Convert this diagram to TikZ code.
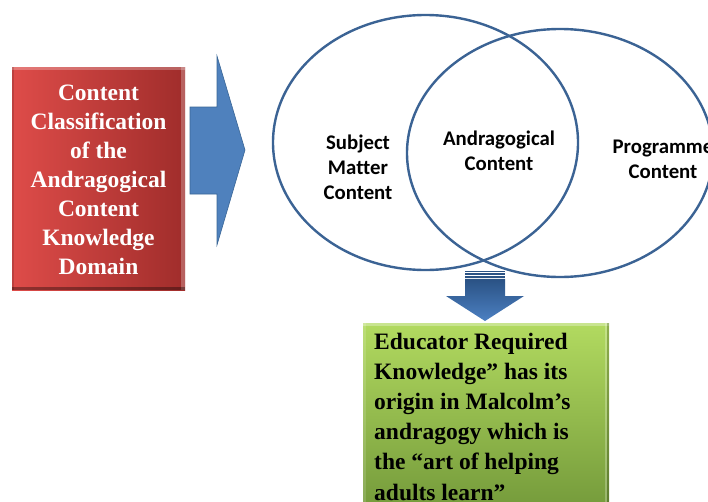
\documentclass[tikz,border=0pt]{standalone}
\usepackage{fontspec}
\setmainfont{Liberation Serif}
\newfontfamily\calib[Ligatures=NoCommon]{Carlito}
\usetikzlibrary{shapes.geometric}

\definecolor{ringblue}{HTML}{3B6394}
\definecolor{arrowblue}{HTML}{4F81BD}
\definecolor{arrowedge}{HTML}{3A6696}
\definecolor{redlight}{HTML}{DE4C49}
\definecolor{reddark}{HTML}{A02D2B}
\definecolor{greenlight}{HTML}{B2DA60}
\definecolor{greendark}{HTML}{73993A}
\definecolor{downtop}{HTML}{2A5284}
\definecolor{downbot}{HTML}{4C80C2}

\tikzset{
  ring/.style={ellipse, draw=ringblue, line width=2.4pt, inner sep=0pt},
  venntext/.style={font=\calib\bfseries\fontsize{20.8}{25}\selectfont, align=center, text=black},
  redbox/.style={left color=redlight, right color=reddark, draw=none},
  greenbox/.style={top color=greenlight, bottom color=greendark, draw=none},
  boxtext/.style={font=\bfseries\fontsize{23.5}{29}\selectfont},
}

\begin{document}
\begin{tikzpicture}[x=1pt, y=-1pt]
\useasboundingbox (0,0) rectangle (708,501);
\clip (0,0) rectangle (708,501);
\fill[white] (0,0) rectangle (708,501);

% classification box on the left
\node[redbox, minimum width=173pt, minimum height=223pt, inner sep=0pt] (domain) at (98.5,178.5) {};
\fill[white, opacity=0.25] (domain.north west) rectangle ([yshift=-3pt]domain.north east);
\fill[white, opacity=0.25] ([xshift=-4pt]domain.north east) rectangle (domain.south east);
\fill[black, opacity=0.35] ([yshift=3pt]domain.south west) rectangle (domain.south east);
\fill[black, opacity=0.15] (domain.north west) rectangle ([xshift=2pt]domain.south west);
\node[boxtext, text=white, align=center] (domaintext) at (98.5,180)
  {Content\\Classification\\of the\\Andragogical\\Content\\Knowledge\\Domain};

% block arrow pointing to the circles
\draw[fill=arrowblue, draw=arrowedge, line width=0.6pt, line join=miter]
  (190,107) -- (217,107) -- (217,56) -- (245,150) -- (217,245) -- (217,194) -- (190,194) -- cycle;

% the two overlapping circles
\node[ring, minimum width=305pt, minimum height=255pt] (subject) at (425.5,142.5) {};
\node[ring, minimum width=306pt, minimum height=248pt] (programme) at (560,153) {};

\node[venntext] (smc) at (358,167) {Subject\\Matter\\Content};
\node[venntext] (ac) at (499,150.5) {Andragogical\\Content};
\node[venntext] (pc) at (663,159) {Programme\\Content};

% striped block arrow pointing down
\fill[downtop] (465,270.5) rectangle (505,271.9);
\fill[downtop] (465,273.3) rectangle (505,274.7);
\fill[downtop] (465,276.1) rectangle (505,277.5);
\shade[top color=downtop, bottom color=downbot]
  (465,278.8) -- (505,278.8) -- (505,296) -- (524,296) -- (485,321) -- (446,296) -- (465,296) -- cycle;

% knowledge box at the bottom
\node[greenbox, minimum width=246pt, minimum height=190pt, inner sep=0pt, anchor=north west] (educator) at (363,323) {};
\fill[white, opacity=0.3] (educator.north west) rectangle ([yshift=-3pt]educator.north east);
\fill[white, opacity=0.25] ([xshift=-4pt]educator.north east) rectangle ([xshift=-2.5pt]educator.south east);
\fill[black, opacity=0.2] ([xshift=-2.5pt]educator.north east) rectangle (educator.south east);
\fill[white, opacity=0.15] (educator.north west) rectangle ([xshift=3pt]educator.south west);
\node[boxtext, text=black, align=left, anchor=north west, inner sep=0pt,
      font=\bfseries\fontsize{23.5}{30.2}\selectfont] (educatortext) at (374,332.5)
  {Educator Required\\Knowledge” has its\\origin in Malcolm’s\\andragogy which is\\the “art of helping\\adults learn”};
\end{tikzpicture}
\end{document}
